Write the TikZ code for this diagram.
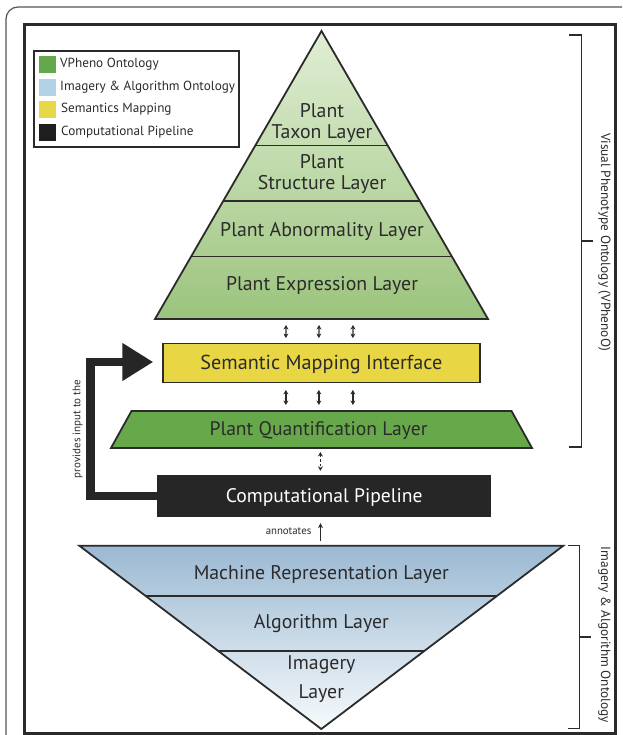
\documentclass[tikz,border=0pt]{standalone}
\usepackage{fontspec}
\setmainfont{PT Sans}
\usetikzlibrary{calc,arrows.meta}

\definecolor{ink}{HTML}{2B2B2B}
\definecolor{framec}{HTML}{2A2A2A}
\definecolor{pyrtop}{HTML}{E0EED4}
\definecolor{pyrbot}{HTML}{9CC47D}
\definecolor{quantg}{HTML}{67A94A}
\definecolor{semy}{HTML}{E8D645}
\definecolor{pipek}{HTML}{262626}
\definecolor{invtop}{HTML}{9BB9D2}
\definecolor{invbot}{HTML}{F7FAFC}
\definecolor{lgreen}{HTML}{63A84C}
\definecolor{lblue}{HTML}{B3D2E4}
\definecolor{lyellow}{HTML}{E6D847}
\definecolor{lblack}{HTML}{1E1E1E}

\tikzset{
  outline/.style={draw=ink, line width=1.8pt, line join=miter},
  layertext/.style={text=ink, font=\fontsize{19.8}{21.5}\selectfont, align=center, inner sep=0pt, yshift=-1.5pt},
  legendtext/.style={text=ink, font=\fontsize{13.2}{15}\selectfont, anchor=west, inner sep=0pt},
  swatch/.style={minimum width=18pt, minimum height=18pt, inner sep=0pt, draw=white, line width=0.6pt},
  sidetext/.style={text=ink, font=\fontsize{13.3}{15}\selectfont, inner sep=0pt, rotate=-90},
  bracket/.style={draw=ink, line width=1.5pt},
  linkarrow/.style={draw=ink, line width=1.3pt, {Stealth[length=4.5pt,width=5pt]}-{Stealth[length=4.5pt,width=5pt]}},
  boxtext/.style={inner sep=0pt, text height=15pt, text depth=2.5pt},
}

\begin{document}
\begin{tikzpicture}[x=1pt, y=-1pt]
\useasboundingbox (0,0) rectangle (622,735);
\clip (0,0) rectangle (622,735);

% outer rounded frame and inner thick frame
\draw[draw=framec!80, line width=1.2pt, rounded corners=12pt] (6,760) |- (640,7);
\draw[draw=framec, line width=3pt] (24.5,25) rectangle (615,733.5);

% legend
\draw[draw=framec, line width=1.6pt] (34,51) rectangle (239,147);
\node[swatch, fill=lgreen]  (sw1) at (47,64) {};
\node[swatch, fill=lblue]   (sw2) at (47,87) {};
\node[swatch, fill=lyellow] (sw3) at (47,109.5) {};
\node[swatch, fill=lblack]  (sw4) at (47,132) {};
\node[legendtext] (lg1) at (60,64) {VPheno Ontology};
\node[legendtext] (lg2) at (60,87) {Imagery \& Algorithm Ontology};
\node[legendtext] (lg3) at (61,109.5) {Semantics Mapping};
\node[legendtext] (lg4) at (61,132) {Computational Pipeline};

% upper pyramid
\coordinate (apex) at (321.5,31);
\coordinate (bl) at (155,319);
\coordinate (br) at (488,319);
\shade[top color=pyrtop, bottom color=pyrbot] (apex) -- (br) -- (bl) -- cycle;
\foreach \yy/\nm in {145.5/a, 201/b, 256.5/c}{
  \coordinate (l\nm) at ($(apex)!{(\yy-31)/288}!(bl)$);
  \coordinate (r\nm) at ($(apex)!{(\yy-31)/288}!(br)$);
  \draw[outline] (l\nm) -- (r\nm);
}
\draw[outline] (apex) -- (br) -- (bl) -- cycle;
\node[layertext] (taxon) at (322,121.5) {Plant\\Taxon Layer};
\node[layertext] (struct) at (322,172.5) {Plant\\Structure Layer};
\node[layertext] (abnorm) at (322,229.5) {Plant Abnormality Layer};
\node[layertext] (expr) at (322,284.5) {Plant Expression Layer};

% semantic mapping interface
\node[draw=ink, line width=1.8pt, fill=semy, minimum width=317pt, minimum height=39pt, boxtext,
      text=ink, font=\fontsize{20.2}{22}\selectfont] (sem) at (321.35,363) {Semantic Mapping Interface};

% plant quantification layer
\coordinate (qtl) at (131.5,411);
\coordinate (qtr) at (511.5,411);
\coordinate (qbr) at (532,448);
\coordinate (qbl) at (111,448);
\filldraw[outline, fill=quantg] (qtl) -- (qtr) -- (qbr) -- (qbl) -- cycle;
\node[layertext, font=\fontsize{19.6}{21}\selectfont] (quant) at (318.5,429) {Plant Quantification Layer};

% computational pipeline
\node[fill=pipek, minimum width=334pt, minimum height=42pt, boxtext,
      text=white, font=\fontsize{19.6}{21}\selectfont] (pipe) at (324.2,496) {Computational Pipeline};

% links between layers
\foreach \dx in {-35.5,-2.5,31.5}{
  \draw[linkarrow] ($(apex|-bl)+(\dx,6)$) -- ($(sem.north)+(\dx,-4.5)$);
  \draw[linkarrow] ($(sem.south)+(\dx,6.5)$) -- ($(qtl-|sem.south)+(\dx,-6)$);
}
\draw[linkarrow, dash pattern=on 2.5pt off 2pt] ($(qbl-|pipe.north)+(-3.8,4)$) -- ($(pipe.north)+(-3.8,-4)$);

% feedback from the pipeline into the mapping interface
\coordinate (bend) at (90.7,362);
\draw[draw=pipek, line width=8.5pt, line join=miter, shorten >=8.7pt,
      -{Triangle[length=31pt,width=36pt]}] (pipe.west) -| (bend) -- (bend-|sem.west);
\node[text=ink, font=\fontsize{11}{12}\selectfont, rotate=90, inner sep=0pt] (provides) at (77.5,429) {provides input to the};

% annotation arrow
\coordinate (annbase) at (320.5,541);
\draw[draw=ink, line width=1.3pt, -{Stealth[length=5pt,width=5pt]}] (annbase) -- ($(pipe.south)+(-3.7,6)$);
\node[text=ink, font=\fontsize{10.8}{12}\selectfont, anchor=east, inner sep=0pt] (annot) at (311.5,531.5) {annotates};

% inverted imagery pyramid
\coordinate (itl) at (79.3,545.7);
\coordinate (itr) at (563.3,545.7);
\coordinate (ibot) at (321.3,729);
\shade[top color=invtop, bottom color=invbot] (itl) -- (itr) -- (ibot) -- cycle;
\foreach \yy/\nm in {595.7/d, 650.7/e}{
  \coordinate (l\nm) at ($(itl)!{(\yy-545.7)/183.3}!(ibot)$);
  \coordinate (r\nm) at ($(itr)!{(\yy-545.7)/183.3}!(ibot)$);
  \draw[outline] (l\nm) -- (r\nm);
}
\draw[outline] (itl) -- (itr) -- (ibot) -- cycle;
\node[layertext] (machine) at (321.3,573.5) {Machine Representation Layer};
\node[layertext] (algo) at (321.3,622.5) {Algorithm Layer};
\node[layertext, font=\fontsize{19.8}{28.5}\selectfont] (imagery) at (321.3,677.5) {Imagery\\Layer};

% brackets with side labels
\draw[bracket] (569,35) -- (581.5,35) -- (581.5,447) -- (569,447);
\draw[bracket] (581.5,241) -- (593,241);
\node[sidetext] (vplabel) at (604.5,242) {Visual Phenotype Ontology (VPhenoO)};
\draw[bracket] (568,545.7) -- (579.5,545.7) -- (579.5,728.5) -- (568,728.5);
\draw[bracket] (579.5,637) -- (591,637);
\node[sidetext] (ialabel) at (604.5,635) {Imagery \& Algorithm Ontology};
\end{tikzpicture}
\end{document}
